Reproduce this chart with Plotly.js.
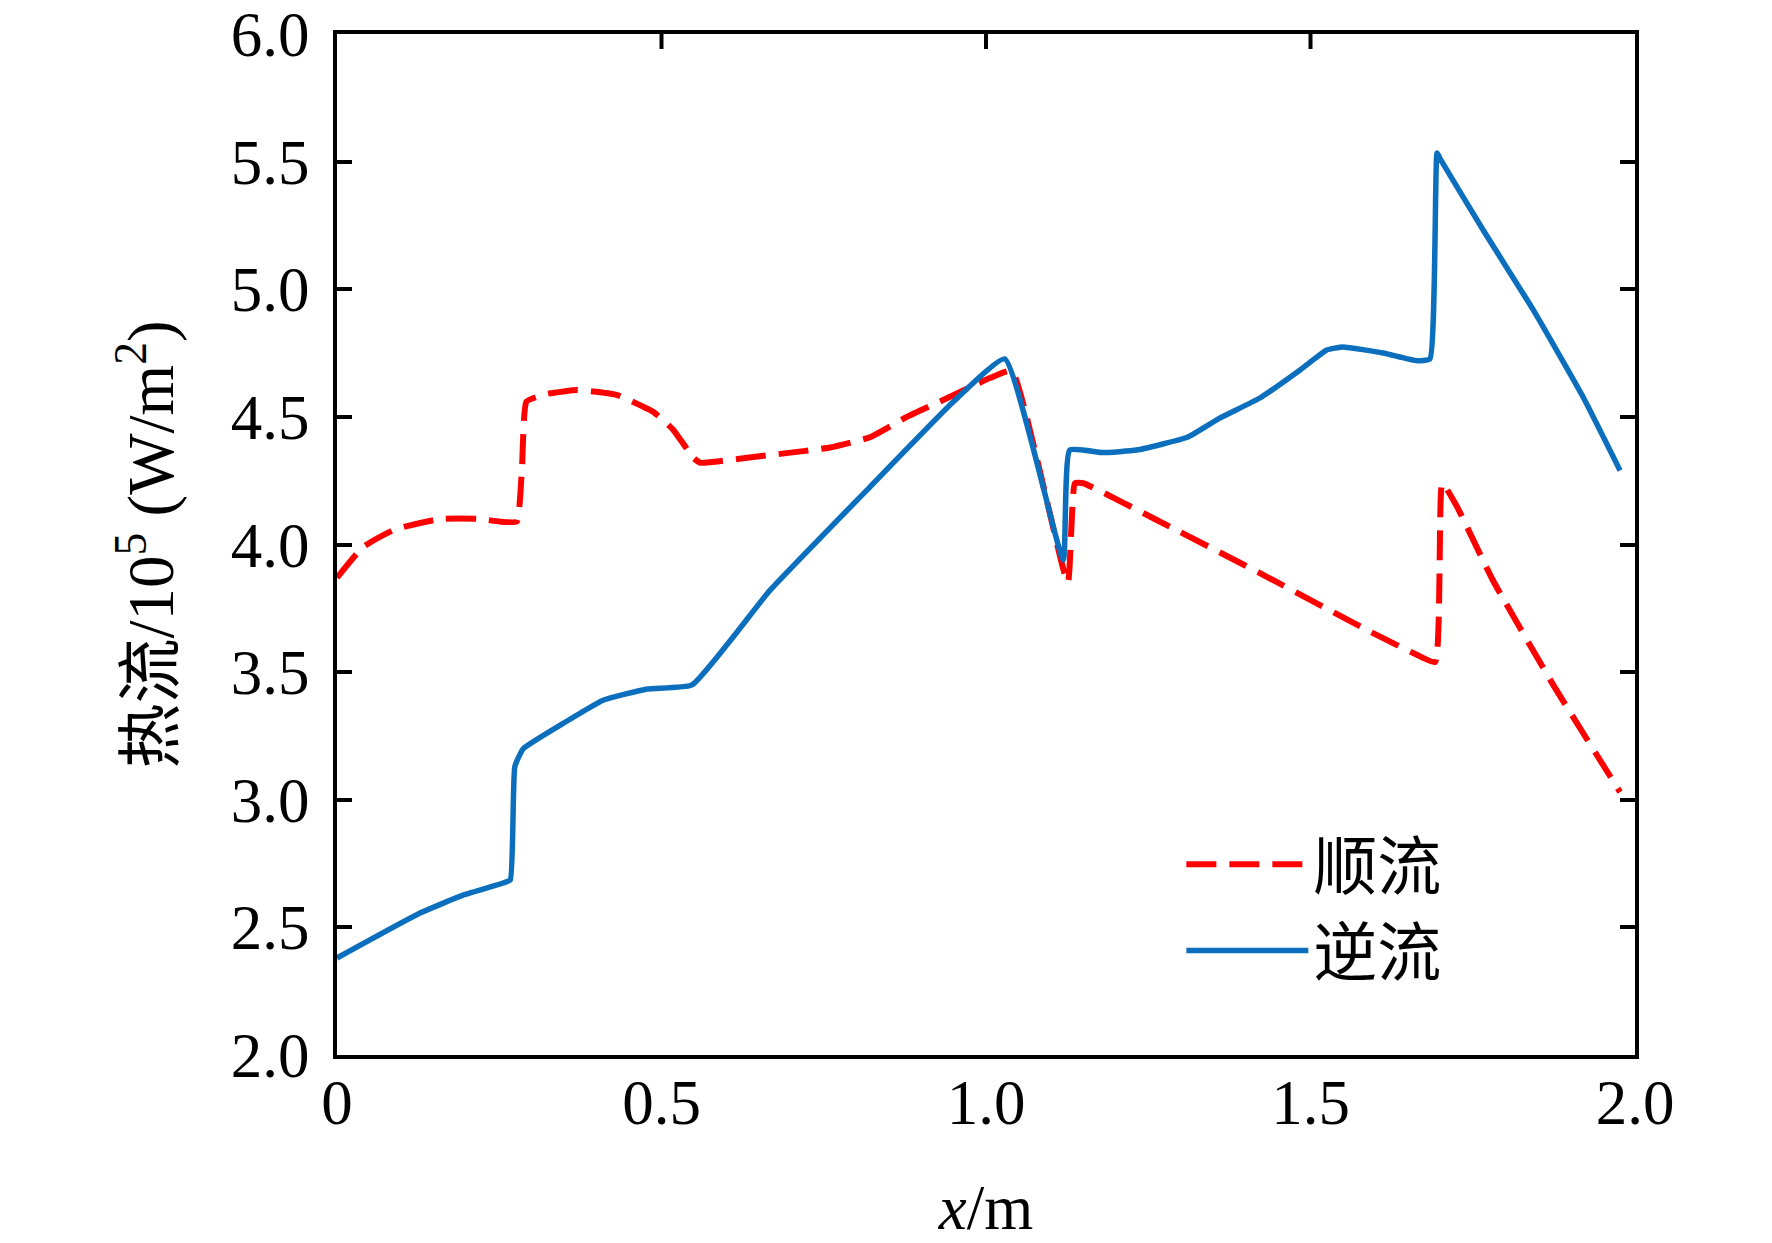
<!DOCTYPE html>
<html>
<head>
<meta charset="utf-8">
<script src="https://cdn.plot.ly/plotly-3.0.1.min.js"></script>
<style>
  html, body { margin: 0; padding: 0; background: #fff; }
  #chart { width: 1772px; height: 1243px; }
</style>
</head>
<body>
<div id="chart"></div>
<script>
// 顺流 (co-current)
const coX = [0, 0.04, 0.09, 0.16, 0.22, 0.25, 0.277, 0.285, 0.292, 0.323, 0.37, 0.431, 0.487, 0.518, 0.549, 0.56,
  0.632, 0.683, 0.76, 0.821, 0.878, 0.934, 1.006, 1.04, 1.126, 1.137, 1.15, 1.263, 1.422, 1.587, 1.658, 1.692,
  1.703, 1.726, 1.781, 1.874, 1.977];
const coY = [3.87, 3.99, 4.06, 4.10, 4.10, 4.09, 4.09, 4.30, 4.56, 4.59, 4.605, 4.586, 4.52, 4.45, 4.34, 4.32,
  4.34, 4.355, 4.38, 4.42, 4.50, 4.566, 4.652, 4.68, 3.85, 4.24, 4.24, 4.096, 3.888, 3.665, 3.575, 3.54,
  4.24, 4.147, 3.86, 3.45, 3.03];

// 逆流 (counter-current)
const ctX = [0, 0.128, 0.195, 0.256, 0.267, 0.274, 0.287, 0.349, 0.41, 0.478, 0.547, 0.667, 0.821, 0.95, 1.029,
  1.119, 1.129, 1.18, 1.232, 1.31, 1.36, 1.422, 1.484, 1.525, 1.55, 1.612, 1.664, 1.684, 1.695, 1.70, 1.766,
  1.843, 1.92, 1.977];
const ctY = [2.38, 2.556, 2.627, 2.674, 2.686, 3.13, 3.20, 3.30, 3.39, 3.434, 3.45, 3.82, 4.225, 4.56, 4.727,
  3.94, 4.37, 4.36, 4.37, 4.42, 4.495, 4.574, 4.684, 4.762, 4.774, 4.75, 4.72, 4.727, 5.534, 5.51, 5.232,
  4.92, 4.578, 4.29];

const seriesNames = ['顺流', '逆流'];
const xTickVals = [0, 0.5, 1.0, 1.5, 2.0];
const xTickText = ['0', '0.5', '1.0', '1.5', '2.0'];
const topTickVals = [0.5, 1.0, 1.5];
const yTickVals = [2.0, 2.5, 3.0, 3.5, 4.0, 4.5, 5.0, 5.5, 6.0];

const FONT = 'Liberation Serif, "Times New Roman", "Noto Sans CJK SC", serif';
const PLOT_H = 1243 - 34 - 188;

const traces = [
  {
    x: coX, y: coY, mode: 'lines', name: seriesNames[0],
    line: { color: '#ff0000', width: 6, dash: '30px,13px', shape: 'spline', smoothing: 0.4 },
  },
  {
    x: ctX, y: ctY, mode: 'lines', name: seriesNames[1],
    line: { color: '#0b6fbe', width: 5.5, shape: 'spline', smoothing: 0.4 },
  },
];

// inward ticks along the top edge only (bottom edge carries none)
const shapes = topTickVals.map((v) => ({
  type: 'line', xref: 'x', yref: 'paper', x0: v, x1: v, y0: 1, y1: 1 - 15 / PLOT_H,
  line: { color: '#000', width: 4 },
}));

const layout = {
  width: 1772, height: 1243,
  margin: { l: 337, r: 137, t: 34, b: 188 },
  paper_bgcolor: '#fff', plot_bgcolor: '#fff',
  font: { family: FONT, size: 63, color: '#000' },
  shapes,
  showlegend: true,
  legend: {
    x: 0.6505, y: 0.234, xanchor: 'left', yanchor: 'top',
    bgcolor: 'rgba(0,0,0,0)', borderwidth: 0,
    itemwidth: 122, tracegroupgap: 0,
    font: { family: FONT, size: 64, color: '#000' },
  },
  xaxis: {
    range: [0, 2], tickvals: xTickVals, ticktext: xTickText,
    ticks: '', showgrid: false, zeroline: false,
    showline: true, linecolor: '#000', linewidth: 4, mirror: true,
    tickfont: { size: 63 }, ticklabelstandoff: -11,
    title: { text: '<i>x</i>/m', font: { size: 63 }, standoff: 65 },
  },
  yaxis: {
    range: [2, 6], tickvals: yTickVals, tickformat: '.1f',
    ticks: 'inside', ticklen: 15, tickwidth: 4, tickcolor: '#000',
    showgrid: false, zeroline: false,
    showline: true, linecolor: '#000', linewidth: 4, mirror: 'ticks',
    tickfont: { size: 63 }, ticklabelstandoff: 11,
    title: { text: '热流/10<sup>5</sup> (W/m<sup>2</sup>)', font: { size: 65 }, standoff: 37 },
  },
};

Plotly.newPlot('chart', traces, layout, { displayModeBar: false, staticPlot: true });
</script>
</body>
</html>
